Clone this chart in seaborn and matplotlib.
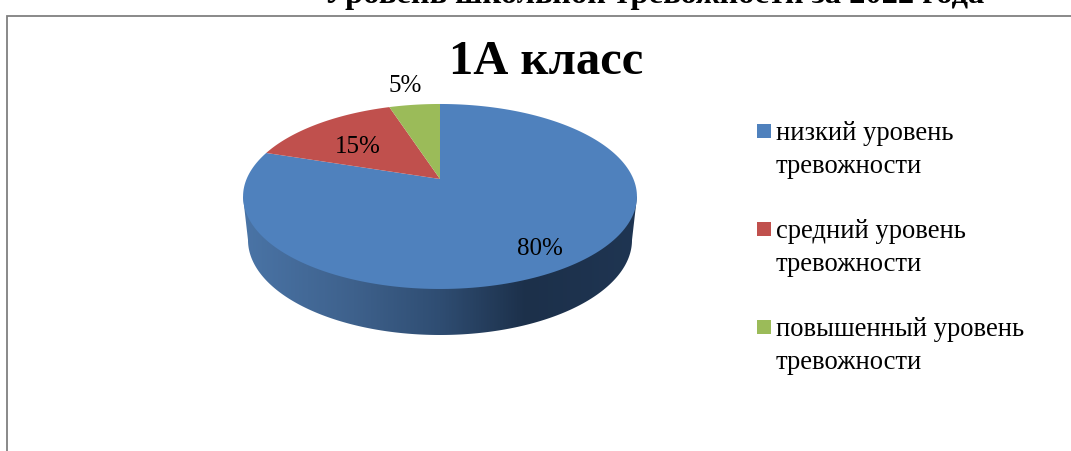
# -*- coding: utf-8 -*-
import numpy as np
import seaborn as sns
import matplotlib.pyplot as plt
from matplotlib.colors import LinearSegmentedColormap
from matplotlib.patches import Polygon, Rectangle
from matplotlib.legend_handler import HandlerPatch

# data
categories = ['низкий уровень\nтревожности',
              'средний уровень\nтревожности',
              'повышенный уровень\nтревожности']
values = [80, 15, 5]
colors = ['#4F81BD', '#C0504D', '#9BBB59']
wall_colors = ['#4A74A6', '#3E618C', '#2F4D72', '#1C304A', '#1F3552']
chart_title = '1А класс'
page_title = 'Уровень школьной тревожности за 2022 года'

# pie geometry, in pixels of the picture
APEX_X, APEX_Y = 440, 180
TILT = 0.189
SCALE_X, SCALE_Y = 193.4, 89.2
WALL_Y, WALL_RX, WALL_RY = 241, 192, 95

sns.set_theme(style='white')
plt.rcParams['font.family'] = ['Liberation Serif', 'DejaVu Serif']


def project(x, y):
    # unit circle of the pie -> tilted disc with perspective
    w = 1 + TILT * y
    return APEX_X + SCALE_X * x / w, APEX_Y - SCALE_Y * y / w


def first_line_square(legend, orig_handle, xdescent, ydescent, width, height, fontsize):
    return Rectangle((-xdescent, -ydescent + 13.6), 10, 10)


fig = plt.figure(figsize=(10.71, 4.52), dpi=100)
ax = fig.add_axes([0, 0, 1, 1])

wedges, _ = ax.pie(values, colors=colors, startangle=90, counterclock=False)

# the pie wedges get bent through the perspective, keeping their angles
handles = []
for w, col, lab in zip(wedges, colors, categories):
    t = np.radians(np.linspace(w.theta1, w.theta2, 200))
    xs = np.r_[0, np.cos(t)]
    ys = np.r_[0, np.sin(t)]
    px, py = project(xs, ys)
    poly = Polygon(np.c_[px, py], closed=True, facecolor=col, edgecolor='none', zorder=3)
    ax.add_patch(poly)
    handles.append(poly)
    w.remove()

# side wall of the disc
t = np.radians(np.linspace(180, 360, 200))
wall_x = APEX_X + WALL_RX * np.cos(t)
wall_y = WALL_Y - WALL_RY * np.sin(t)
wall_pts = np.r_[[[243, 197.5]], np.c_[wall_x, wall_y], [[637, 197.5]]]
wall = Polygon(wall_pts, closed=True, facecolor='none', edgecolor='none')
ax.add_patch(wall)
cmap = LinearSegmentedColormap.from_list('wall', list(zip([0, 0.28, 0.5, 0.72, 1], wall_colors)))
img = ax.imshow(np.linspace(0, 1, 400).reshape(1, -1), cmap=cmap, aspect='auto',
                extent=(243, 637, 340, 190), zorder=2)
img.set_clip_path(wall)

# frame
ax.plot([7, 7, 1071], [452, 16.5, 16.5], color='#808080', lw=1.3, zorder=1, solid_joinstyle='miter')

# percent labels
ax.text(540, 249, f'{values[0]}%', fontsize=18, ha='center', va='center', color='black', zorder=4)
ax.text(358, 147, f'{values[1]}%', fontsize=18, ha='center', va='center', color='black', zorder=4)
ax.text(405, 86, f'{values[2]}%', fontsize=18, ha='center', va='center', color='black', zorder=4)

# titles
ax.text(546, 62, chart_title, fontsize=35, fontweight='bold', ha='center', va='center', color='black')
ax.text(654, 3, page_title, fontsize=23.4, fontweight='bold', ha='center', va='baseline', color='black')

leg = ax.legend(handles, categories, loc='upper left', bbox_to_anchor=(757, 121),
                bbox_transform=ax.transData, frameon=False, fontsize=19.2, labelcolor='black',
                handlelength=0.56, handleheight=0.56, handletextpad=0.15,
                labelspacing=1.52, borderpad=0, borderaxespad=0,
                handler_map={Polygon: HandlerPatch(patch_func=first_line_square)})
for txt in leg.get_texts():
    txt.set_linespacing(1.4)

ax.set_xlim(0, 1071)
ax.set_ylim(452, 0)
ax.set_aspect('auto')
ax.axis('off')

plt.savefig('out.png', dpi=100)
